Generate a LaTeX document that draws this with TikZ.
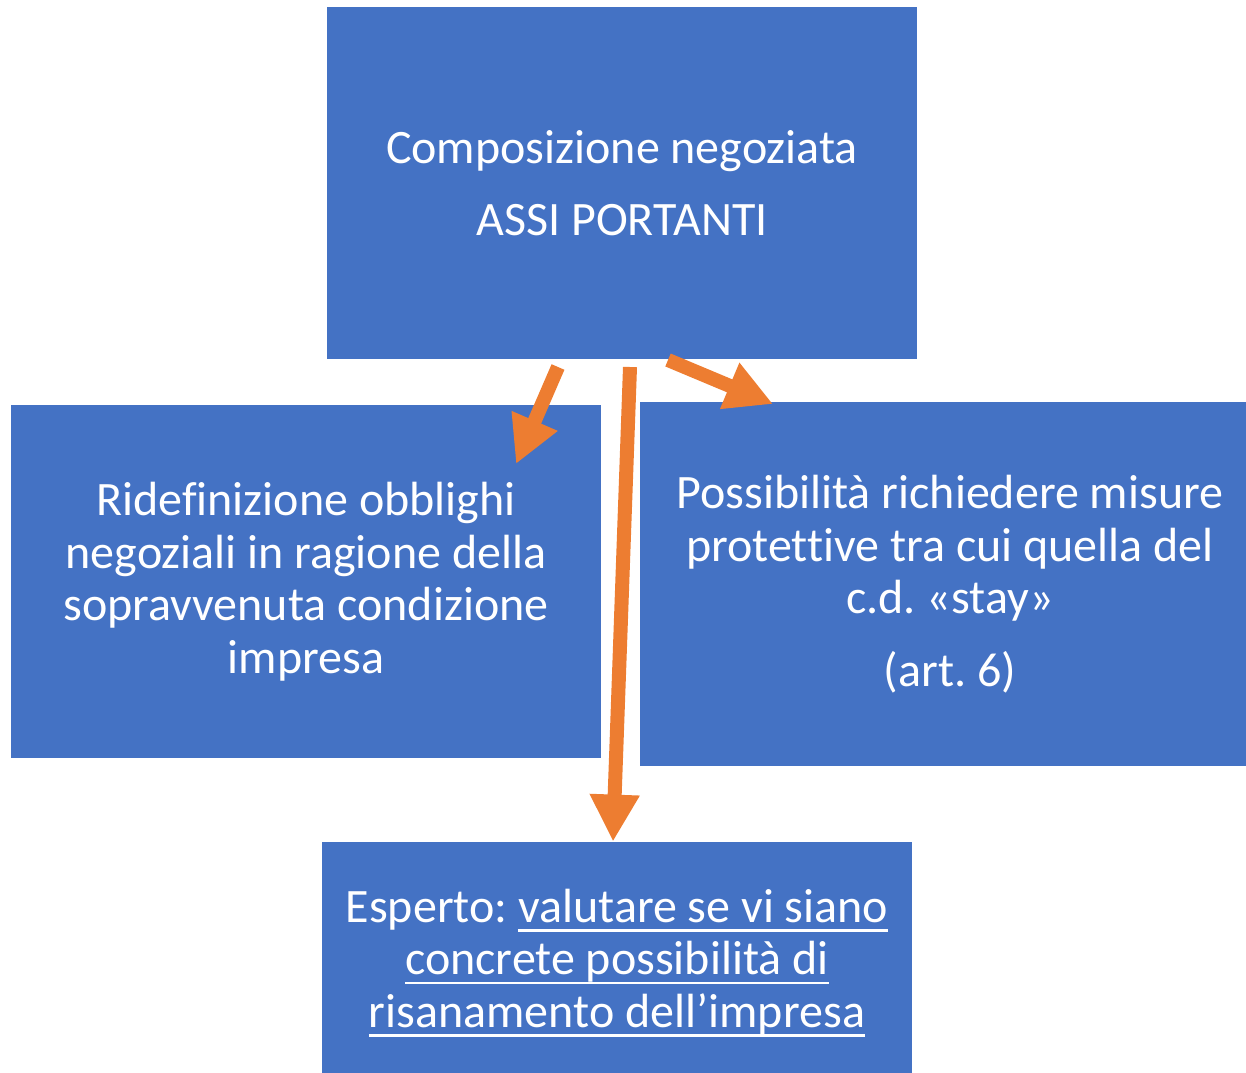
\documentclass[tikz,border=0pt]{standalone}
\usepackage{fontspec}
\setmainfont{Carlito}[Ligatures=NoCommon]
\usetikzlibrary{arrows.meta,positioning}
\definecolor{bluastro}{HTML}{4472C4}
\definecolor{arancio}{HTML}{ED7D31}
\newcommand{\sottolinea}[1]{\setbox0\hbox{#1}\rlap{\smash{\rule[-0.2em]{\wd0}{1.4pt}}}\box0}
\frenchspacing

\begin{document}
\begin{tikzpicture}[x=0.5pt,y=-0.5pt,
		blocco/.style  = {fill=bluastro, text=white, align=center, inner sep=0pt, font=\fontsize{24}{26.3}\selectfont},
		freccia/.style = {draw=arancio, line width=7pt, -{Triangle[length=23.5pt,width=23.5pt]}}]
		
		\useasboundingbox (0,0) rectangle (1246,1072);
		
		% the main box on top
		\node[blocco, minimum width=295pt, minimum height=176pt] (assi) at (622,183)
		{Composizione negoziata\\[10pt]ASSI PORTANTI};
		
		% the two boxes in the middle
		\node[blocco, minimum width=295pt, minimum height=176.5pt] (obblighi) at (306,581.5)
		{Ridefinizione obblighi\\negoziali in ragione della\\sopravvenuta condizione\\impresa};
		\node[blocco, minimum width=303pt, minimum height=182pt] (misure) at (943,584)
		{\hspace*{7pt}Possibilità richiedere misure\\\hspace*{7pt}protettive tra cui quella del\\\hspace*{7pt}c.d. «stay»\\[10pt]\hspace*{7pt}(art. 6)};
		
		% the box at the bottom (runs past the lower edge)
		\node[blocco, minimum width=295pt, minimum height=120pt] (esperto) at (617,962)
		{Esperto: \sottolinea{valutare se vi siano}\\\sottolinea{concrete possibilità di}\\\sottolinea{risanamento dell’impresa}};
		
		% free ends of the arrows
		\coordinate (a1) at (558,367);
		\coordinate (b1) at (516,464);
		\coordinate (a2) at (630,367);
		\coordinate (a3) at (668,360);
		\coordinate (b3) at (773,404);
		
		\draw[freccia] (a1) -- (b1);
		\draw[freccia] (a2) -- ([xshift=-2pt]esperto.north);
		\draw[freccia] (a3) -- (b3);
		
\end{tikzpicture}
\end{document}
